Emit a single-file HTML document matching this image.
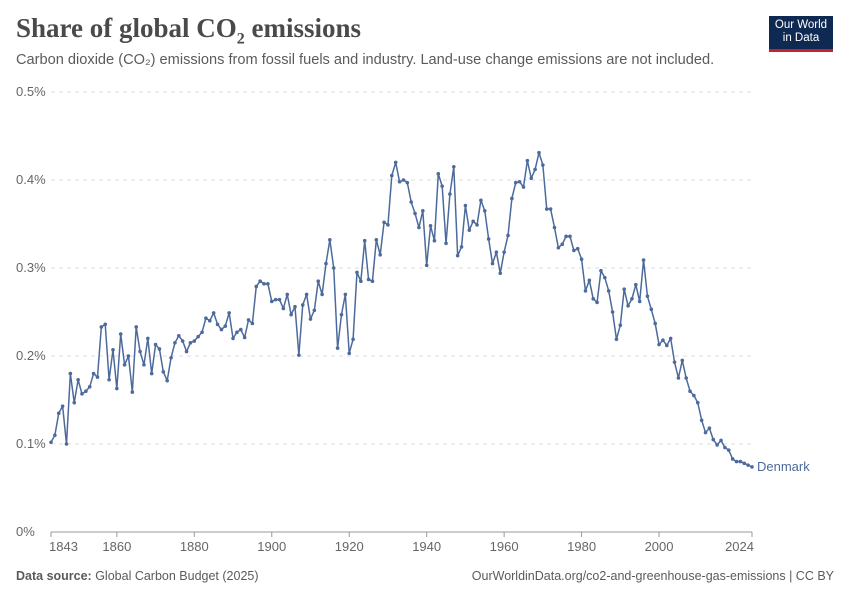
<!DOCTYPE html>
<html><head><meta charset="utf-8">
<style>
body{margin:0;background:#fff;font-family:"Liberation Sans",sans-serif;}
#wrap{position:relative;width:850px;height:600px;overflow:hidden;}
.t{position:absolute;white-space:nowrap;}
</style></head>
<body>
<div id="wrap">
<div class="t" style="left:16px;top:13px;font-family:'Liberation Serif',serif;font-size:27px;color:#4a4a4a;font-weight:bold;">Share of global CO<sub style="font-size:16px">2</sub> emissions</div>
<div class="t" style="left:16px;top:52px;font-size:14.6px;color:#5b5b5b;">Carbon dioxide (CO₂) emissions from fossil fuels and industry. Land-use change emissions are not included.</div>
<div style="position:absolute;left:769px;top:16px;width:64px;height:36px;background:#0f2a52;border-bottom:3px solid #c8202f;color:#fff;font-size:11.5px;text-align:center;line-height:13px;padding-top:3px;box-sizing:border-box;">Our World<br>in Data</div>
<svg id="chart" width="850" height="600" style="position:absolute;left:0;top:0"></svg>
<div class="t" style="left:16px;top:569px;font-size:12.5px;color:#5b5b5b;"><b>Data source:</b> Global Carbon Budget (2025)</div>
<div class="t" style="right:16px;top:569px;font-size:12.5px;color:#5b5b5b;">OurWorldinData.org/co2-and-greenhouse-gas-emissions | CC BY</div>
</div>
<script>
const startYear = 1843;
const values = [.102,.11,.135,.143,.10,.18,.147,.173,.157,.16,.165,.18,.176,.233,.236,.173,.207,.163,.225,.19,.2,.159,.233,.205,.19,.22,.18,.213,.208,.182,.172,.198,.215,.223,.217,.205,.215,.217,.222,.227,.243,.24,.249,.236,.23,.234,.249,.22,.227,.23,.221,.241,.237,.279,.285,.282,.282,.262,.264,.264,.254,.27,.247,.256,.201,.258,.27,.242,.252,.285,.27,.305,.332,.3,.209,.247,.27,.203,.219,.295,.285,.331,.287,.285,.332,.315,.352,.349,.405,.42,.398,.4,.397,.375,.362,.346,.365,.303,.348,.331,.407,.393,.328,.384,.415,.314,.324,.371,.343,.353,.349,.377,.365,.333,.305,.318,.294,.318,.337,.379,.397,.398,.392,.422,.402,.412,.431,.417,.367,.367,.346,.323,.327,.336,.336,.32,.322,.31,.274,.286,.265,.261,.297,.289,.274,.25,.219,.235,.276,.257,.265,.281,.262,.309,.268,.253,.237,.213,.218,.212,.22,.193,.175,.195,.175,.16,.155,.147,.127,.113,.118,.105,.099,.104,.096,.093,.083,.08,.08,.078,.076,.074];
const yTicks = [0,0.1,0.2,0.3,0.4,0.5];
const xTicks = [1843,1860,1880,1900,1920,1940,1960,1980,2000,2024];
const seriesName = "Denmark";

const NS="http://www.w3.org/2000/svg";
const svg=document.getElementById('chart');
const x0=51,x1=752,y0=532,y1=92;
const xs=y=>x0+(y-startYear)*(x1-x0)/(2024-1843);
const ys=v=>y0-(v/0.5)*(y0-y1);
function mk(tag,attrs){const e=document.createElementNS(NS,tag);for(const k in attrs)e.setAttribute(k,attrs[k]);svg.appendChild(e);return e;}
yTicks.forEach(t=>{
  const y=ys(t);
  const g=mk('line',{x1:x0,x2:x1,y1:y,y2:y,stroke:'#dcdcdc','stroke-dasharray':t===0?'none':'4,4','stroke-width':1});
  if(t===0)g.setAttribute('stroke','#999');
  
  
  const tx=mk('text',{x:16,y:y+4,'font-size':13,fill:'#666','font-family':'Liberation Sans, sans-serif'});
  tx.textContent=t+'%';
  
  
});
xTicks.forEach((t,i)=>{
  const x=xs(t);
  const tk=mk('line',{x1:x,x2:x,y1:y0,y2:y0+5,stroke:'#999'});
  
  
  let anchor='middle',lx=x;
  if(i===0){anchor='start';lx=x-2;}
  if(i===xTicks.length-1){anchor='end';lx=x+2;}
  const tx=mk('text',{x:lx,y:y0+19,'font-size':13,fill:'#666','text-anchor':anchor,'font-family':'Liberation Sans, sans-serif'});
  tx.textContent=t;
  
  
});
const pts=values.map((v,i)=>[xs(startYear+i),ys(v)]);
const line=mk('polyline',{points:pts.map(p=>p.join(',')).join(' '),fill:'none',stroke:'#4c6a9c','stroke-width':1.5,'stroke-linejoin':'round'});


pts.forEach(p=>{
  const c=mk('circle',{cx:p[0],cy:p[1],r:1.8,fill:'#4c6a9c'});
  
  
});
const last=pts[pts.length-1];
const lab=mk('text',{x:last[0]+5,y:last[1]+4,'font-size':13,fill:'#4c6a9c','font-family':'Liberation Sans, sans-serif'});
lab.textContent=seriesName;


</script>
</body></html>
